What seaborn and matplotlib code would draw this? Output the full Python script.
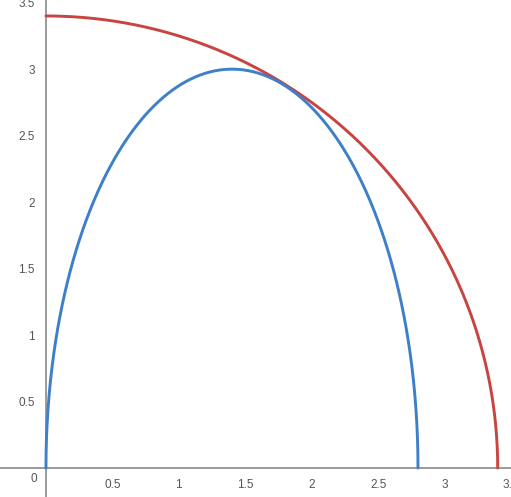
import numpy as np
import pandas as pd
import matplotlib
matplotlib.use("Agg")
import matplotlib.pyplot as plt
import seaborn as sns

# curve parameters
circle_radius = 3.4
ellipse_center = 1.4
ellipse_semi_x = 1.4
ellipse_semi_y = 3.0

x_ticks = [0.5, 1, 1.5, 2, 2.5, 3, 3.5]
y_ticks = [0.5, 1, 1.5, 2, 2.5, 3, 3.5]
x_labels = ["0.5", "1", "1.5", "2", "2.5", "3", "3.5"]
y_labels = ["0.5", "1", "1.5", "2", "2.5", "3", "3.5"]

t = np.linspace(0, np.pi / 2, 400)
circle = pd.DataFrame({"x": circle_radius * np.cos(t), "y": circle_radius * np.sin(t)})
s = np.linspace(0, np.pi, 600)
ellipse = pd.DataFrame({"x": ellipse_center + ellipse_semi_x * np.cos(s),
                        "y": ellipse_semi_y * np.sin(s)})

sns.set_style("white")
plt.rcParams['font.family'] = ['Arial', 'Liberation Sans', 'DejaVu Sans']

fig = plt.figure(figsize=(5.11, 4.97), dpi=100)
ax = fig.add_axes([0, 0, 1, 1])

sns.lineplot(data=circle, x="x", y="y", sort=False, color="#c74440", linewidth=2.1, ax=ax)
sns.lineplot(data=ellipse, x="x", y="y", sort=False, color="#3d7fc9", linewidth=2.1, ax=ax)

ax.set_xlim(-0.346, 3.496)
ax.set_ylim(-0.218, 3.52)

for side in ["top", "right"]:
    ax.spines[side].set_visible(False)
for side in ["left", "bottom"]:
    ax.spines[side].set_position(("data", 0))
    ax.spines[side].set_color("#8a8a8a")
    ax.spines[side].set_linewidth(1.2)
    ax.spines[side].set_zorder(1)

ax.set_xticks(x_ticks)
ax.set_xticklabels(x_labels)
ax.set_yticks(y_ticks)
ax.set_yticklabels(y_labels)
ax.tick_params(axis="both", direction="out", length=3, width=1, color="#8a8a8a",
               labelsize=8.5, labelcolor="#555555", pad=5)
ax.text(-0.07, -0.04, "0", ha="right", va="top", fontsize=8.5, color="#555555")

ax.set_xlabel("")
ax.set_ylabel("")
ax.grid(False)

fig.savefig("out.png", dpi=100)
